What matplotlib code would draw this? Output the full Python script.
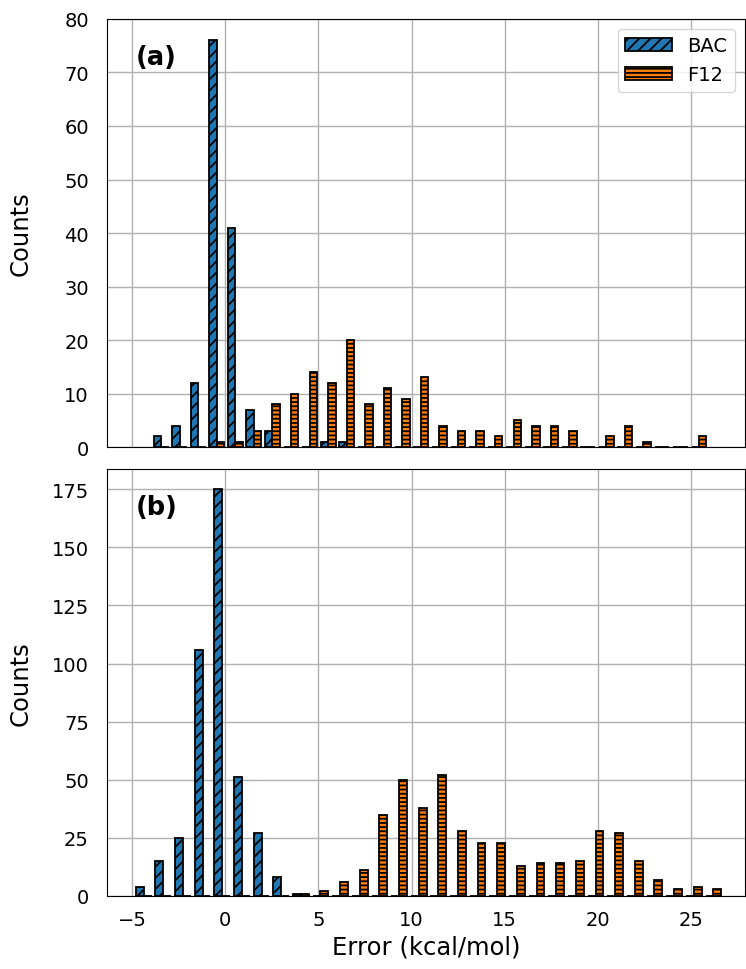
import numpy as np
import matplotlib.pyplot as plt

# histogram counts per bin (30 bins each panel)
bac_a = [2, 4, 12, 76, 41, 7, 3, 0, 0, 1, 1, 0, 0, 0, 0,
         0, 0, 0, 0, 0, 0, 0, 0, 0, 0, 0, 0, 0, 0, 0]
f12_a = [0, 0, 0, 1, 1, 3, 8, 10, 14, 12, 20, 8, 11, 9, 13,
         4, 3, 3, 2, 5, 4, 4, 3, 0, 2, 4, 1, 0, 0, 2]
edges_a = (-3.93, 25.92)

bac_b = [4, 15, 25, 106, 175, 51, 27, 8, 1, 0, 0, 0, 0, 0, 0,
         0, 0, 0, 0, 0, 0, 0, 0, 0, 0, 0, 0, 0, 0, 0]
f12_b = [0, 0, 0, 0, 0, 0, 0, 0, 1, 2, 6, 11, 35, 50, 38,
         52, 28, 23, 23, 13, 14, 14, 15, 28, 27, 15, 7, 3, 4, 3]
edges_b = (-4.90, 26.72)

labels = ['BAC', 'F12']
panel_tags = ['(a)', '(b)']
ylims = [(0, 80), (0, 183.75)]
xticks = [-5, 0, 5, 10, 15, 20, 25]

plt.rcParams['font.size'] = 14
plt.rcParams['hatch.linewidth'] = 1.3

fig = plt.figure(figsize=(7.46, 9.70), dpi=100)
ax1 = fig.add_axes([0.1434, 0.5381, 0.8553, 0.4413])
ax2 = fig.add_axes([0.1434, 0.0753, 0.8553, 0.4402], sharex=ax1)


def draw(ax, bac, f12, lo_hi, tag, ylim, legend=False):
    edges = np.linspace(lo_hi[0], lo_hi[1], len(bac) + 1)
    w = np.diff(edges)
    centers = edges[:-1] + w / 2
    dw = 0.4 * w
    ax.bar(centers - dw / 2, bac, width=dw, color='tab:blue', edgecolor='black',
           linewidth=1.3, hatch='///', label=labels[0])
    ax.bar(centers + dw / 2, f12, width=dw, color='tab:orange', edgecolor='black',
           linewidth=1.3, hatch='----', label=labels[1])
    ax.set_axisbelow(True)
    ax.grid(True, color='#b0b0b0', linewidth=1.0)
    ax.set_ylim(*ylim)
    ax.set_ylabel('Counts', fontsize=17.5)
    ax.yaxis.set_label_coords(-0.117, 0.5)
    ax.tick_params(axis='x', length=0, pad=10)
    ax.tick_params(axis='y', length=0, pad=13)
    ax.text(0.045, 0.942, tag, transform=ax.transAxes, va='top', ha='left',
            fontsize=18.5, fontweight='bold')
    if legend:
        ax.legend(loc='upper right', fontsize=14, handlelength=2.4)


draw(ax1, bac_a, f12_a, edges_a, panel_tags[0], ylims[0], legend=True)
draw(ax2, bac_b, f12_b, edges_b, panel_tags[1], ylims[1])

ax1.set_xlim(-6.34, 27.89)
ax1.set_xticks(xticks)
plt.setp(ax1.get_xticklabels(), visible=False)
ax1.set_yticks(np.arange(0, 81, 10))
ax2.set_yticks(np.arange(0, 176, 25))
ax2.set_xlabel('Error (kcal/mol)', fontsize=17.5)

fig.savefig('out.png', dpi=100)
